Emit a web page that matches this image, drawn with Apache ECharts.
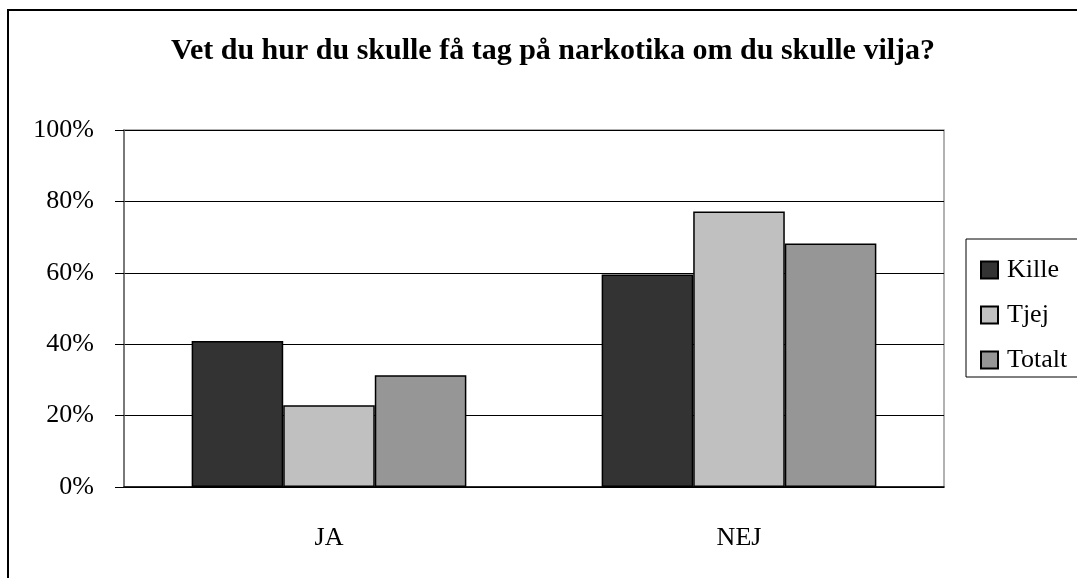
<!DOCTYPE html>
<html>
<head>
<meta charset="utf-8">
<script src="https://cdn.jsdelivr.net/npm/echarts@6/dist/echarts.min.js"></script>
<style>
    html, body { margin: 0; padding: 0; background: #fff; }
    #chart { width: 1077px; height: 578px; }
</style>
</head>
<body>
<div id="chart"></div>
<script>
const kategorier = ['JA', 'NEJ']
const kille = [40.9, 59.5]
const tjej = [22.9, 77.2]
const totalt = [31.3, 68.2]
const yTicks = [0, 20, 40, 60, 80, 100]

const font = "'Liberation Serif', 'Times New Roman', serif"

let myChart = echarts.init(document.getElementById('chart'), null, {
    renderer: 'canvas'
})

function serie(namn, data, farg) {
    return {
        name: namn,
        type: 'bar',
        data: data,
        barGap: '0%',
        barCategoryGap: '33%',
        itemStyle: {
            color: farg,
            borderColor: '#000',
            borderWidth: 1.5
        }
    }
}

myChart.setOption({
    animation: false,
    title: {
        text: 'Vet du hur du skulle få tag på narkotika om du skulle vilja?',
        left: 166,
        top: 31,
        textStyle: {
            fontFamily: font,
            fontWeight: 'bold',
            fontSize: 30,
            color: '#000'
        }
    },
    graphic: [
        {
            type: 'rect',
            shape: { x: 8, y: 10, width: 1100, height: 600 },
            style: { fill: 'none', stroke: '#000', lineWidth: 2 }
        },
        {
            type: 'rect',
            shape: { x: 966, y: 239, width: 130, height: 138 },
            style: { fill: '#fff', stroke: '#000', lineWidth: 1 },
            z: 0
        }
    ],
    legend: {
        orient: 'vertical',
        left: 975,
        top: 252,
        itemWidth: 17,
        itemHeight: 17,
        itemGap: 19,
        icon: 'rect',
        z: 5,
        textStyle: {
            fontFamily: font,
            fontSize: 26,
            lineHeight: 26,
            color: '#000',
            padding: [0, 0, 0, 4]
        }
    },
    grid: {
        left: 124,
        right: 133,
        top: 130,
        bottom: 91,
        show: true,
        borderColor: '#999',
        borderWidth: 1.5
    },
    xAxis: {
        type: 'category',
        data: kategorier,
        axisLine: { lineStyle: { color: '#000', width: 1.5 } },
        axisTick: { length: 9, lineStyle: { color: '#000' } },
        axisLabel: {
            margin: 38,
            fontFamily: font,
            fontSize: 26,
            color: '#000'
        }
    },
    yAxis: {
        type: 'value',
        min: yTicks[0],
        max: yTicks[yTicks.length - 1],
        interval: 20,
        axisLine: { show: true, lineStyle: { color: '#666', width: 1.5 } },
        axisTick: { show: true, length: 9, lineStyle: { color: '#000' } },
        axisLabel: {
            margin: 30,
            formatter: '{value}%',
            fontFamily: font,
            fontSize: 26,
            color: '#000'
        },
        splitLine: { lineStyle: { color: '#000', width: 1 } }
    },
    series: [
        serie('Kille', kille, '#333333'),
        serie('Tjej', tjej, '#c0c0c0'),
        serie('Totalt', totalt, '#969696')
    ]
})
</script>
</body>
</html>
